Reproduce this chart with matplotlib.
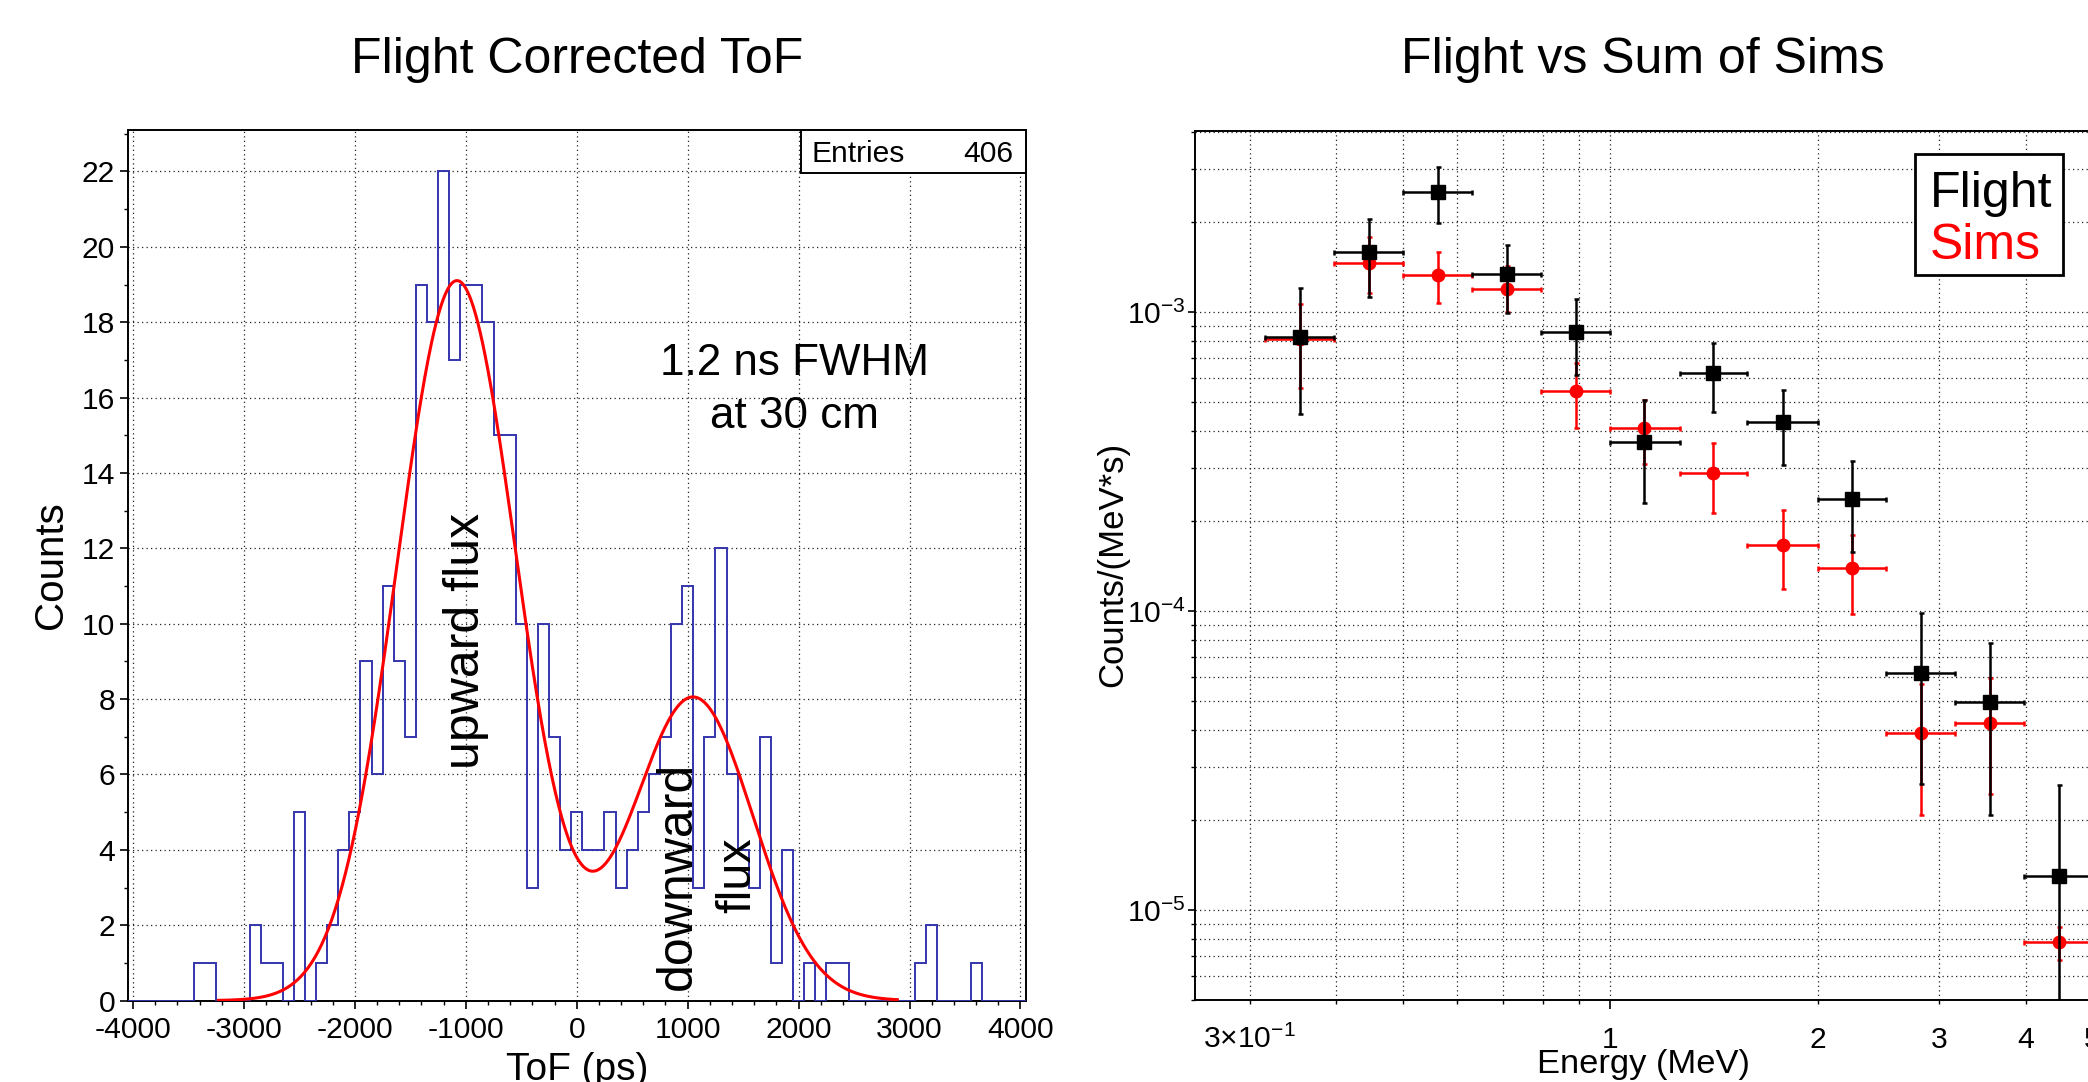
import numpy as np
import matplotlib
matplotlib.use("Agg")
import matplotlib.pyplot as plt
from matplotlib.patches import Rectangle
from matplotlib.ticker import (FixedLocator, FixedFormatter, MultipleLocator,
                               LogLocator, LogFormatterMathtext, NullFormatter)

plt.rcParams['font.family'] = ['Liberation Sans', 'DejaVu Sans']
plt.rcParams['mathtext.default'] = 'regular'
plt.rcParams['axes.unicode_minus'] = False

# ---- ToF histogram, 100 ps bins from -4050 to 4050 ----
tof_edges = np.arange(-4050, 4051, 100)
tof_counts = [0, 0, 0, 0, 0, 0, 1, 1, 0, 0,
              0, 2, 1, 1, 0, 5, 0, 1, 2, 4,
              5, 9, 6, 11, 9, 7, 19, 18, 22, 17,
              19, 19, 18, 15, 15, 10, 3, 10, 7, 4,
              5, 4, 4, 5, 3, 4, 5, 6, 7, 10,
              11, 3, 7, 12, 6, 4, 3, 7, 1, 4,
              0, 1, 0, 1, 1, 0, 0, 0, 0, 0,
              0, 1, 2, 0, 0, 0, 1, 0, 0, 0,
              0]
n_entries = 406

# double gaussian fit: (amplitude, mean [ps], sigma [ps])
fit_up = (19.1, -1080, 540)
fit_down = (8.05, 1050, 540)
fit_range = (-3230, 2890)

# ---- energy spectrum, flight vs summed simulations ----
energy = [0.355, 0.447, 0.562, 0.708, 0.891, 1.12, 1.41, 1.78, 2.24, 2.82, 3.55, 4.47]
energy_lo = [0.316, 0.398, 0.501, 0.631, 0.794, 1.0, 1.26, 1.58, 2.0, 2.51, 3.16, 3.98]
energy_hi = [0.398, 0.501, 0.631, 0.794, 1.0, 1.26, 1.58, 2.0, 2.51, 3.16, 3.98, 5.01]

flight = [8.23e-4, 1.59e-3, 2.51e-3, 1.34e-3, 8.58e-4, 3.68e-4,
          6.26e-4, 4.27e-4, 2.36e-4, 6.22e-5, 4.96e-5, 1.30e-5]
flight_low = [4.57e-4, 1.12e-3, 1.99e-3, 9.89e-4, 6.16e-4, 2.29e-4,
              4.63e-4, 3.08e-4, 1.58e-4, 2.64e-5, 2.08e-5, 0.0]
flight_high = [1.20e-3, 2.05e-3, 3.05e-3, 1.67e-3, 1.105e-3, 5.09e-4,
               7.90e-4, 5.49e-4, 3.18e-4, 9.87e-5, 7.84e-5, 2.61e-5]

sims = [8.11e-4, 1.454e-3, 1.327e-3, 1.197e-3, 5.43e-4, 4.09e-4,
        2.89e-4, 1.667e-4, 1.389e-4, 3.90e-5, 4.21e-5, 7.8e-6]
sims_low = [5.56e-4, 1.16e-3, 1.074e-3, 1.0e-3, 4.08e-4, 3.10e-4,
            2.13e-4, 1.18e-4, 9.77e-5, 2.08e-5, 2.45e-5, 6.8e-6]
sims_high = [1.064e-3, 1.78e-3, 1.59e-3, 1.43e-3, 6.74e-4, 5.08e-4,
             3.64e-4, 2.17e-4, 1.80e-4, 5.69e-5, 5.96e-5, 8.8e-6]

W, H = 2088, 1082
fig = plt.figure(figsize=(W / 100, H / 100), dpi=100)

grid_kw = dict(color='#222222', linewidth=0.9, linestyle=(0, (1, 2.6)))

# ================= left: corrected ToF =================
ax1 = fig.add_axes([127.5 / W, (H - 1000.6) / H, (1026 - 127.5) / W, (1000.6 - 130) / H])
ax1.set_axisbelow(True)
ax1.stairs(tof_counts, tof_edges, color='#3535ad', linewidth=1.4, zorder=3)


def gauss(x, amp, mu, sig):
    return amp * np.exp(-0.5 * ((x - mu) / sig) ** 2)


xf = np.linspace(fit_range[0], fit_range[1], 600)
yf = gauss(xf, *fit_up) + gauss(xf, *fit_down)
ax1.plot(xf, yf, color='red', linewidth=2.2, zorder=4)

ax1.set_xlim(-4050, 4050)
ax1.set_ylim(0, 23.1)
ax1.xaxis.set_major_locator(MultipleLocator(1000))
ax1.xaxis.set_minor_locator(MultipleLocator(200))
ax1.yaxis.set_major_locator(MultipleLocator(2))
ax1.yaxis.set_minor_locator(MultipleLocator(1))
ax1.grid(which='major', **grid_kw)
ax1.tick_params(which='both', direction='out', labelsize=21.6, top=False, right=False)
ax1.tick_params(which='major', length=5.8, width=1.2)
ax1.tick_params(which='minor', length=2.9, width=1.0)
ax1.tick_params(axis='x', which='major', pad=21.3)
ax1.tick_params(axis='y', which='major', pad=3.1)
for lab in ax1.get_xticklabels():
    lab.set_va('baseline')
for sp in ax1.spines.values():
    sp.set_linewidth(1.4)

# stats box
ax1.add_patch(Rectangle((0.7496, 0.9503), 0.2504, 0.0497, transform=ax1.transAxes,
                        facecolor='white', edgecolor='black', linewidth=1.4,
                        zorder=6, clip_on=False))
ax1.text(0.7615, 0.9629, 'Entries', transform=ax1.transAxes, fontsize=21.6,
         ha='left', va='baseline', zorder=7)
ax1.text(0.9859, 0.9629, f'{n_entries}', transform=ax1.transAxes, fontsize=21.6,
         ha='right', va='baseline', zorder=7)

# annotations
ax1.text(1967, 16.6, '1.2 ns FWHM', fontsize=31.7, ha='center', va='baseline', zorder=7)
ax1.text(1962, 15.18, 'at 30 cm', fontsize=31.7, ha='center', va='baseline', zorder=7)
ax1.text(-1000, 9.55, 'upward flux', fontsize=36, rotation=90,
         ha='center', va='center', zorder=7)
ax1.text(910, 3.31, 'downward', fontsize=36, rotation=90,
         ha='center', va='center', zorder=7)
ax1.text(1451, 3.34, 'flux', fontsize=35, rotation=90,
         ha='center', va='center', zorder=7)

fig.text(577 / W, (H - 72.7) / H, 'Flight Corrected ToF', fontsize=36,
         ha='center', va='baseline')
fig.text(51 / W, (H - 565) / H, 'Counts', fontsize=29, rotation=90,
         ha='center', va='center')
fig.text(577 / W, (H - 1080) / H, 'ToF (ps)', fontsize=28,
         ha='center', va='baseline')

# ================= right: energy spectrum =================
ax2 = fig.add_axes([1195 / W, (H - 1000) / H, 966.7 / W, (1000 - 131) / H])
ax2.set_axisbelow(True)
ax2.set_xscale('log')
ax2.set_yscale('log')

e = np.array(energy)
xerr = [e - np.array(energy_lo), np.array(energy_hi) - e]
s = np.array(sims)
f = np.array(flight)
ax2.errorbar(e, s, xerr=xerr, yerr=[s - np.array(sims_low), np.array(sims_high) - s],
             fmt='o', color='red', markersize=9, elinewidth=1.8,
             capsize=1.8, capthick=1.8, zorder=3)
ax2.errorbar(e, f, xerr=xerr, yerr=[f - np.array(flight_low), np.array(flight_high) - f],
             fmt='s', color='black', markersize=10, elinewidth=1.8,
             capsize=1.8, capthick=1.8, zorder=4)

ax2.set_xlim(0.25, 6.3)
ax2.set_ylim(5e-6, 4.03e-3)

ax2.xaxis.set_major_locator(FixedLocator([1]))
ax2.xaxis.set_major_formatter(FixedFormatter(['1']))
minor_x = [0.3, 0.4, 0.5, 0.6, 0.7, 0.8, 0.9, 2, 3, 4, 5, 6]
minor_lab = [r'$3{\times}10^{-1}$', '', '', '', '', '', '', '2', '3', '4', '5', '']
ax2.xaxis.set_minor_locator(FixedLocator(minor_x))
ax2.xaxis.set_minor_formatter(FixedFormatter(minor_lab))
ax2.yaxis.set_major_locator(LogLocator(base=10, numticks=20))
ax2.yaxis.set_major_formatter(LogFormatterMathtext())
ax2.yaxis.set_minor_locator(LogLocator(base=10, subs=np.arange(2, 10), numticks=20))
ax2.yaxis.set_minor_formatter(NullFormatter())

ax2.grid(which='both', **grid_kw)
ax2.tick_params(which='both', direction='out', labelsize=21.6, top=False, right=False)
ax2.tick_params(which='major', length=5.0, width=1.2)
ax2.tick_params(which='minor', length=2.9, width=1.0)
ax2.tick_params(axis='x', which='major', length=6.5, pad=28.3)
ax2.tick_params(axis='x', which='minor', pad=31.9)
ax2.tick_params(axis='y', which='major', pad=1.8)
for lab in ax2.get_xticklabels(which='both'):
    lab.set_va('baseline')
for sp in ax2.spines.values():
    sp.set_linewidth(1.4)

# legend box
ax2.add_patch(Rectangle((0.7448, 0.8343), 0.1534, 0.1392, transform=ax2.transAxes,
                        facecolor='white', edgecolor='black', linewidth=2.0, zorder=6))
ax2.text(0.7603, 0.9129, 'Flight', transform=ax2.transAxes, fontsize=36,
         color='black', ha='left', va='baseline', zorder=7)
ax2.text(0.7603, 0.8527, 'Sims', transform=ax2.transAxes, fontsize=36,
         color='red', ha='left', va='baseline', zorder=7)

fig.text(1643 / W, (H - 72.7) / H, 'Flight vs Sum of Sims', fontsize=36,
         ha='center', va='baseline')
fig.text(1113 / W, (H - 564) / H, 'Counts/(MeV*s)', fontsize=25, rotation=90,
         ha='center', va='center')
fig.text(1643 / W, (H - 1073) / H, 'Energy (MeV)', fontsize=24.8,
         ha='center', va='baseline')

fig.savefig('out.png', dpi=100)
